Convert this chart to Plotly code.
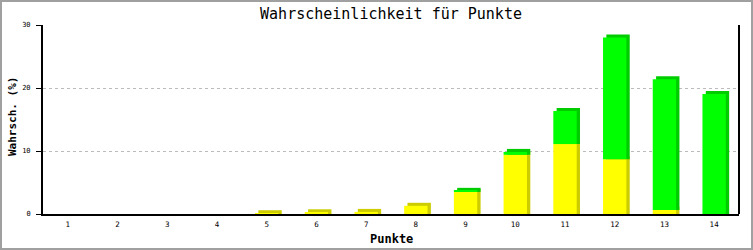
import plotly.graph_objects as go

categories = [1, 2, 3, 4, 5, 6, 7, 8, 9, 10, 11, 12, 13, 14]
yellow_vals = [0, 0, 0, 0, 0.12, 0.27, 0.33, 1.3, 3.5, 9.4, 11.1, 8.7, 0.65, 0]
green_vals = [0, 0, 0, 0, 0, 0, 0, 0, 0.17, 0.45, 5.25, 19.3, 20.75, 19.05]
y_ticks = [0, 10, 20, 30]

title_text = "Wahrscheinlichkeit für Punkte"
x_title = "Punkte"
y_title = "Wahrsch. (%)"

W = 0.47
DX = 0.067   # depth offset (category units)
DY = 0.48    # depth offset (value units)

YEL = "#ffff00"
YEL_D = "#cccc00"
GRN = "#00ff00"
GRN_D = "#00cc00"

mono = "DejaVu Sans Mono"

fig = go.Figure()

# depth (side/top) faces
fig.add_trace(go.Bar(
    x=categories,
    y=[v + DY if v > 0 else 0 for v in yellow_vals],
    base=[0] * len(categories),
    width=W, offset=-W / 2 + DX,
    marker=dict(color=YEL_D, line=dict(width=0)),
    hoverinfo="skip", showlegend=False,
))
fig.add_trace(go.Bar(
    x=categories,
    y=[(g + DY) if g > 0 else None for g in green_vals],
    base=yellow_vals,
    width=W, offset=-W / 2 + DX,
    marker=dict(color=GRN_D, line=dict(width=0)),
    hoverinfo="skip", showlegend=False,
))
# front faces
fig.add_trace(go.Bar(
    x=categories, y=yellow_vals, base=[0] * len(categories),
    width=W, offset=-W / 2,
    marker=dict(color=YEL, line=dict(width=0)),
    showlegend=False,
))
fig.add_trace(go.Bar(
    x=categories, y=green_vals, base=yellow_vals,
    width=W, offset=-W / 2,
    marker=dict(color=GRN, line=dict(width=0)),
    showlegend=False,
))

PW, PH = 696, 189
L, T = 43, 25

def px_x(p):
    return (p - L) / PW

def px_y(p):
    return (T + PH - p) / PH

fig.update_layout(
    width=753, height=250,
    margin=dict(l=L, r=753 - L - PW, t=T, b=250 - T - PH),
    paper_bgcolor="white", plot_bgcolor="white",
    barmode="overlay",
    title=dict(text=title_text, x=0.5, xref="paper", xanchor="center",
               y=1 - 14 / 250, yref="container", yanchor="middle",
               font=dict(family=mono, size=15, color="black")),
    xaxis=dict(
        range=[0.5, 14.5], tickmode="array", tickvals=categories,
        ticktext=[str(c) for c in categories],
        showgrid=False, zeroline=False, automargin=False,
        showline=True, linecolor="black", linewidth=2,
        ticks="", ticklabelstandoff=2,
        tickfont=dict(family=mono, size=7.5, color="black"),
    ),
    yaxis=dict(
        range=[0, 30], tickmode="array", tickvals=y_ticks,
        ticktext=[str(t) for t in y_ticks],
        showgrid=True, gridcolor="#bbbbbb", griddash="dot", gridwidth=1,
        zeroline=False, automargin=False,
        showline=True, linecolor="black", linewidth=2,
        ticks="outside", ticklen=5, tickcolor="black", tickwidth=1,
        ticklabelstandoff=4,
        tickfont=dict(family=mono, size=7, color="black"),
    ),
    annotations=[
        dict(text=x_title, xref="paper", yref="paper",
             x=0.5, y=px_y(239), xanchor="center", yanchor="middle",
             showarrow=False,
             font=dict(family=mono, size=12, color="black", weight="bold")),
        dict(text=y_title, xref="paper", yref="paper",
             x=px_x(12), y=px_y(117), xanchor="center", yanchor="middle",
             showarrow=False, textangle=-90,
             font=dict(family=mono, size=11, color="black", weight="bold")),
    ],
    shapes=[
        dict(type="line", xref="paper", yref="paper", x0=1, x1=1, y0=0, y1=1,
             line=dict(color="black", width=2)),
        dict(type="rect", xref="paper", yref="paper",
             x0=px_x(1), x1=px_x(752), y0=px_y(249), y1=px_y(1),
             line=dict(color="#a0a0a0", width=2), fillcolor="rgba(0,0,0,0)"),
    ],
)

fig.write_html("out.html")
